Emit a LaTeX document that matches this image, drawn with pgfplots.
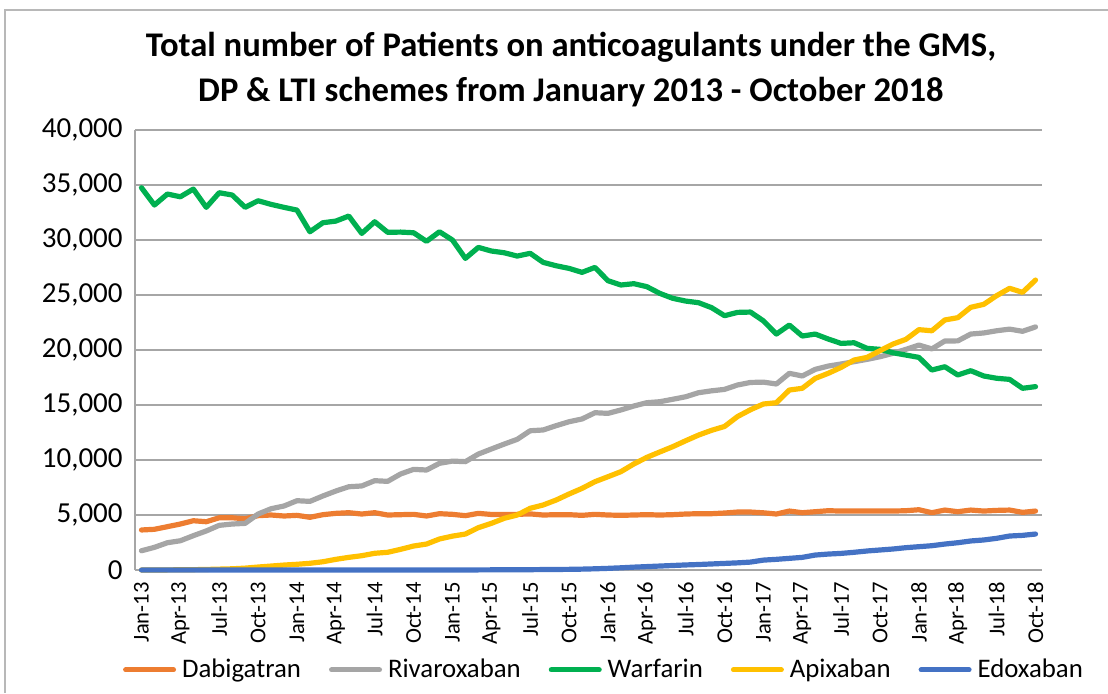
\documentclass[border=0pt]{standalone}
\usepackage{pgfplots}
\pgfplotsset{compat=1.18}
\usepackage{pgfplotstable}
\usepackage{fontspec}
\setmainfont{Carlito}
\definecolor{cDab}{HTML}{ED7D31}
\definecolor{cRiv}{HTML}{A5A5A5}
\definecolor{cWar}{HTML}{00B050}
\definecolor{cApi}{HTML}{FFC000}
\definecolor{cEdo}{HTML}{4472C4}
\definecolor{cGrid}{HTML}{A6A6A6}
\pgfplotstableread{
i dab riv war api edo
0 3640 1750 34750 0 0
1 3700 2060 33180 0 0
2 3940 2480 34180 10 0
3 4180 2660 33930 20 0
4 4480 3120 34630 30 0
5 4390 3550 32970 50 0
6 4750 4060 34300 80 0
7 4750 4180 34090 110 0
8 4660 4240 32970 170 0
9 4940 5090 33570 270 0
10 5000 5570 33240 360 0
11 4910 5820 32970 450 0
12 4970 6300 32720 520 0
13 4790 6240 30750 610 0
14 5030 6730 31570 750 0
15 5150 7180 31720 970 0
16 5210 7570 32180 1150 0
17 5090 7640 30600 1300 0
18 5210 8120 31660 1520 0
19 5000 8060 30700 1610 0
20 5030 8730 30720 1880 0
21 5060 9150 30660 2180 0
22 4910 9090 29880 2360 0
23 5120 9700 30750 2820 0
24 5060 9900 30000 3080 0
25 4940 9850 28330 3270 5
26 5150 10540 29330 3850 10
27 5050 11000 29000 4240 15
28 5050 11450 28840 4700 20
29 5060 11880 28540 5000 25
30 5100 12660 28790 5610 30
31 5000 12730 27970 5910 40
32 5030 13120 27660 6360 50
33 5030 13480 27420 6910 60
34 4970 13730 27060 7420 80
35 5060 14300 27510 8030 110
36 5000 14240 26300 8480 150
37 4970 14550 25910 8940 200
38 5000 14910 26030 9640 260
39 5030 15210 25760 10240 310
40 5000 15300 25150 10730 360
41 5030 15520 24700 11210 410
42 5090 15750 24450 11750 460
43 5120 16120 24300 12270 500
44 5120 16290 23850 12700 550
45 5180 16420 23120 13050 600
46 5270 16820 23420 13950 650
47 5270 17050 23450 14570 720
48 5200 17080 22650 15090 900
49 5090 16910 21450 15210 970
50 5360 17880 22270 16360 1060
51 5210 17640 21270 16520 1150
52 5300 18240 21450 17420 1360
53 5390 18540 21000 17880 1450
54 5360 18730 20600 18420 1510
55 5360 18940 20660 19090 1610
56 5360 19150 20150 19330 1730
57 5360 19390 20060 19940 1820
58 5360 19700 19750 20540 1910
59 5390 20060 19540 20970 2030
60 5480 20450 19330 21850 2120
61 5210 20100 18180 21750 2210
62 5450 20820 18480 22730 2360
63 5300 20830 17730 22940 2480
64 5450 21450 18120 23880 2640
65 5360 21550 17640 24150 2730
66 5420 21750 17430 24940 2880
67 5450 21900 17330 25610 3090
68 5240 21700 16520 25240 3150
69 5360 22100 16670 26360 3270
}\data
\begin{document}
\begin{tikzpicture}
\path[use as bounding box] (0,0) rectangle (554pt,346.5pt);
\draw[cGrid!80, line width=0.6pt] (2.5pt,0pt) -- (2.5pt,341.5pt) -- (554pt,341.5pt);
\node[font=\fontsize{17.3}{20.5}\selectfont\bfseries, align=center] at (285.5pt,311.5pt)
  {Total number of Patients on anticoagulants under the GMS,\\[2pt] DP \& LTI schemes from January 2013 - October 2018};
\begin{axis}[
  at={(67.5pt,61.5pt)}, anchor=south west,
  scale only axis, width=453.5pt, height=220pt,
  xmin=-0.5, xmax=69.5, ymin=0, ymax=40000,
  axis x line*=bottom, axis y line*=left,
  axis line style={cGrid, line width=1pt},
  ytick={0,5000,...,40000},
  ymajorgrids, grid style={cGrid, line width=1pt},
  major tick length=0pt,
  xtick={0,3,...,69},
  xticklabels={Jan-13,Apr-13,Jul-13,Oct-13,Jan-14,Apr-14,Jul-14,Oct-14,Jan-15,Apr-15,Jul-15,Oct-15,Jan-16,Apr-16,Jul-16,Oct-16,Jan-17,Apr-17,Jul-17,Oct-17,Jan-18,Apr-18,Jul-18,Oct-18},
  xticklabel style={rotate=90, anchor=east, font=\fontsize{11.3}{13}\selectfont, inner sep=0pt, xshift=-6pt},
  yticklabel style={anchor=east, font=\fontsize{14.5}{17}\selectfont, inner sep=0pt, xshift=-6pt},
  scaled y ticks=false,
  /pgf/number format/.cd, 1000 sep={,}, assume math mode=true,
  /pgfplots/.cd,
  every axis plot/.append style={line width=2.6pt, line cap=round, line join=round},
  legend style={at={(0.516,-0.227)}, anchor=center, draw=none, fill=none,
    font=\fontsize{13.4}{16}\selectfont, legend columns=5,
    nodes={inner sep=0pt},
    /tikz/every odd column/.append style={column sep=3pt},
    /tikz/every even column/.append style={column sep=14pt}},
  legend image code/.code={\path[draw=none, fill=none] (0pt,-1pt) rectangle (26.5pt,1pt);\draw[#1, line width=2.6pt, line cap=round] (1.3pt,0pt) -- (25.2pt,0pt);},
  clip=false,
]
\addplot[cDab] table[x=i, y=dab] {\data};
\addlegendentry{Dabigatran}
\addplot[cRiv] table[x=i, y=riv] {\data};
\addlegendentry{Rivaroxaban}
\addplot[cWar] table[x=i, y=war] {\data};
\addlegendentry{Warfarin}
\addplot[cApi] table[x=i, y=api] {\data};
\addlegendentry{Apixaban}
\addplot[cEdo] table[x=i, y=edo] {\data};
\addlegendentry{Edoxaban}
\end{axis}
\end{tikzpicture}
\end{document}
